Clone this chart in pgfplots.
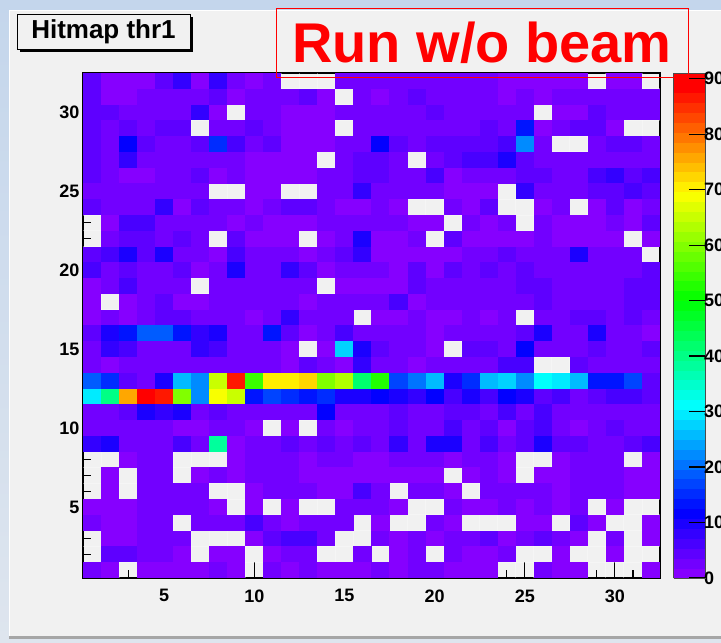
\documentclass[border=0pt]{standalone}
\usepackage{fontspec}
\setmainfont{Liberation Sans}
\usepackage{pgfplots}
\usepackage{pgfplotstable}
\pgfplotsset{compat=1.18}

% hits per pad: one line per row r, columns c1..c32 (0 = no hit)
\pgfplotstableread{
r c1 c2 c3 c4 c5 c6 c7 c8 c9 c10 c11 c12 c13 c14 c15 c16 c17 c18 c19 c20 c21 c22 c23 c24 c25 c26 c27 c28 c29 c30 c31 c32
32 5 1 1 1 5 8 1 8 3 1 2 0 0 0 3 2 3 3 3 3 3 3 3 1 1 1 1 1 0 1 1 0
31 5 1 1 3 3 2 3 5 1 2 3 3 4 1 0 3 1 3 5 3 3 3 2 1 2 1 2 2 3 2 3 3
30 5 5 3 3 3 3 8 1 0 3 2 1 1 1 3 3 3 3 3 4 2 2 3 3 3 0 1 1 4 3 3 3
29 5 3 5 3 5 5 0 3 3 5 2 1 1 1 0 3 3 3 3 3 2 3 4 3 14 1 3 5 4 1 0 0
28 5 3 11 5 3 3 5 16 7 3 4 1 1 1 2 3 11 5 3 5 5 5 5 7 22 3 0 0 3 4 5 3
27 5 3 8 3 2 2 3 2 2 1 1 1 1 0 3 4 5 3 0 3 5 7 7 9 5 3 3 3 2 3 3 3
26 4 3 1 1 3 2 5 1 3 1 1 1 1 3 2 5 4 3 3 7 1 3 3 3 5 5 3 2 7 8 5 7
25 3 3 2 3 3 3 2 0 0 1 1 0 0 3 3 8 3 3 3 3 1 1 1 0 8 3 3 3 5 5 7 5
24 4 3 3 3 8 1 5 3 2 1 3 5 5 3 1 1 3 1 0 0 3 1 4 0 0 1 3 0 1 4 1 2
23 0 1 7 7 3 3 3 3 1 3 1 1 1 2 3 3 3 3 1 1 0 3 1 2 0 2 1 1 1 3 1 4
22 0 3 4 4 3 5 3 0 5 1 1 1 0 1 3 9 1 1 3 0 5 1 1 1 1 2 1 1 1 1 0 1
21 4 7 9 4 9 3 3 1 7 3 3 3 1 3 4 8 1 1 1 1 1 3 3 5 3 3 3 9 3 3 3 0
20 7 3 4 3 3 5 1 3 9 3 3 8 5 1 3 3 2 1 5 1 5 3 5 3 5 3 3 3 3 3 3 5
19 1 3 6 3 3 3 0 3 3 3 3 3 3 0 1 1 1 1 4 3 3 3 3 3 5 4 3 3 3 3 4 4
18 1 0 1 3 4 1 1 3 3 3 3 3 1 3 3 3 3 6 1 3 3 3 3 3 2 5 3 3 3 3 4 4
17 1 3 1 3 4 4 3 3 3 1 3 8 3 3 2 0 1 1 3 1 1 3 1 3 0 2 2 5 5 3 5 3
16 5 9 13 19 18 13 8 9 3 3 13 5 1 3 6 2 3 3 3 1 3 3 3 3 5 9 3 2 9 3 3 1
15 3 8 6 3 2 2 8 6 3 3 3 1 0 1 28 9 5 3 3 1 0 5 4 3 11 3 2 3 4 3 3 5
14 2 1 3 3 3 3 3 3 3 3 3 1 4 3 1 8 3 3 1 3 3 3 3 7 6 0 0 5 3 3 3 3
13 18 15 4 3 9 25 23 66 86 55 70 70 73 60 64 42 52 17 20 25 9 16 26 28 23 31 30 26 14 13 17 5
12 30 40 76 89 86 60 23 68 66 13 17 16 13 15 9 9 11 10 8 11 7 9 7 11 9 5 6 3 5 7 7 5
11 3 3 4 9 8 9 3 5 3 3 3 3 3 12 3 3 3 4 3 3 5 5 3 7 3 6 3 3 3 3 3 3
10 3 3 3 3 3 1 1 3 3 1 0 1 0 3 1 3 2 4 3 3 7 3 4 1 5 7 3 1 3 4 3 3
9 8 9 3 3 2 6 3 38 1 3 3 5 3 5 3 4 3 8 3 9 9 3 7 2 5 10 5 4 3 3 4 6
8 0 0 1 2 2 0 0 0 1 3 3 3 1 3 3 1 1 2 2 3 1 3 3 1 0 0 1 3 3 3 0 1
7 0 1 0 2 2 0 1 3 1 3 3 3 1 1 1 1 1 1 1 1 0 1 3 1 0 1 1 3 3 3 1 1
6 0 1 0 3 3 3 3 0 0 1 3 3 3 1 1 6 3 0 3 3 1 0 3 3 3 3 1 3 3 3 1 1
5 1 1 1 3 3 3 3 1 0 1 0 1 0 0 2 3 3 1 0 0 2 1 1 3 1 3 1 3 0 1 0 0
4 2 1 1 3 3 0 3 3 3 6 3 1 2 3 3 0 1 0 0 3 1 0 0 0 1 1 0 4 1 0 0 1
3 0 1 1 3 3 2 0 0 0 1 5 7 7 3 0 0 2 1 2 1 2 3 4 1 3 4 3 1 0 3 0 1
2 0 5 4 2 3 1 0 1 1 0 1 3 3 0 0 2 0 1 3 0 2 1 1 3 0 0 1 0 0 1 0 0
1 2 1 0 1 1 1 1 3 1 0 2 1 3 1 1 1 3 1 3 3 1 1 1 0 0 3 1 1 0 0 0 1
}\hitmap

% 50-step violet-to-red palette, last colour repeated
\pgfplotsset{colormap={rootpal}{
 rgb255=(134,0,255) rgb255=(114,0,255) rgb255=(94,0,255) rgb255=(72,0,255)
 rgb255=(51,0,255) rgb255=(27,0,255) rgb255=(3,0,255) rgb255=(0,20,255)
 rgb255=(0,44,255) rgb255=(0,68,255) rgb255=(0,92,255) rgb255=(0,116,255)
 rgb255=(0,139,255) rgb255=(0,163,255) rgb255=(0,187,255) rgb255=(0,211,255)
 rgb255=(0,235,255) rgb255=(0,255,252) rgb255=(0,255,228) rgb255=(0,255,204)
 rgb255=(0,255,180) rgb255=(0,255,156) rgb255=(0,255,133) rgb255=(0,255,109)
 rgb255=(0,255,85) rgb255=(0,255,61) rgb255=(0,255,37) rgb255=(0,255,14)
 rgb255=(10,255,0) rgb255=(34,255,0) rgb255=(58,255,0) rgb255=(82,255,0)
 rgb255=(105,255,0) rgb255=(129,255,0) rgb255=(153,255,0) rgb255=(177,255,0)
 rgb255=(201,255,0) rgb255=(224,255,0) rgb255=(248,255,0) rgb255=(255,238,0)
 rgb255=(255,214,0) rgb255=(255,190,0) rgb255=(255,167,0) rgb255=(255,143,0)
 rgb255=(255,119,0) rgb255=(255,95,0) rgb255=(255,71,0) rgb255=(255,48,0)
 rgb255=(255,24,0) rgb255=(255,0,0) rgb255=(255,0,0)}}

% one filled bin, 577/32 by 505/32
\pgfdeclareplotmark{cell}{%
  \pgfpathrectangle{\pgfqpoint{-9.07pt}{-7.94pt}}{\pgfqpoint{18.14pt}{15.88pt}}%
  \pgfusepathqfill}

\definecolor{canvas}{RGB}{241,241,241}
\definecolor{edgetop}{RGB}{196,214,236}
\definecolor{edgebot}{RGB}{222,229,238}

\begin{document}
\begin{tikzpicture}[x=1pt,y=1pt]
  % window background and canvas
  \shade[top color=edgetop, bottom color=edgebot] (0,0) rectangle (721,643);
  \fill[canvas] (9,6) rectangle (721,633);
  \draw[white, line width=1pt] (9.5,6) -- (9.5,632.5) -- (721,632.5);
  \fill[gray!70] (9,4) rectangle (721,7);

  \begin{axis}[
    at={(83pt,65pt)}, anchor=south west,
    scale only axis, width=577pt, height=505pt,
    xmin=0.5, xmax=32.5, ymin=0.5, ymax=32.5,
    axis background/.style={fill=canvas},
    axis on top,
    xtick pos=bottom, ytick pos=left,
    xtick={5,10,...,30}, ytick={5,10,...,30},
    minor xtick={1,...,32}, minor ytick={1,...,32},
    extra x ticks={1.5,2.5,...,31.5}, extra y ticks={1.5,2.5,...,31.5},
    extra x tick labels={}, extra y tick labels={},
    extra tick style={grid=major, major tick length=0pt,
      major grid style={white, opacity=0.35, line width=0.9pt}},
    tick align=inside,
    major tick length=16pt, minor tick length=8pt,
    tick style={black, line width=1.1pt},
    axis line style={black, line width=1.4pt},
    /pgf/number format/assume math mode=true,
    ticklabel style={font=\bfseries\fontsize{18}{18}\selectfont},
    xticklabel style={yshift=-8pt},
    colormap name=rootpal,
    colormap access=piecewise constant,
    point meta min=0, point meta max=91,
    colorbar,
    colorbar style={
      at={(parent axis.south east)}, anchor=south west, xshift=5pt,
      scale only axis, width=32pt, height=505pt,
      ytick={0,10,...,90},
      ytick pos=right, yticklabel pos=right,
      tick align=inside, major tick length=17pt,
      tick style={black, line width=1.1pt},
      axis line style={draw=gray!60!black, line width=0.6pt},
      /pgf/number format/assume math mode=true,
      yticklabel style={font=\bfseries\fontsize{18}{18}\selectfont, xshift=-5pt},
    },
  ]
    \pgfplotsinvokeforeach{1,...,32}{%
      \addplot[scatter, only marks, mark=cell, point meta=explicit,
        scatter/use mapped color={draw=none, fill=mapped color},
        filter discard warning=false, unbounded coords=discard]
        table[x expr=#1, y expr={\thisrow{c#1}==0 ? nan : \thisrow{r}},
              meta=c#1] {\hitmap};
    }
  \end{axis}

  % histogram title box with drop shadow
  \fill[black] (20,591) rectangle (193,626);
  \draw[black, line width=0.8pt, fill=canvas] (17,594) rectangle (190,629);
  \node[anchor=base, inner sep=0pt, font=\bfseries\fontsize{26}{26}\selectfont]
    at (103.5,604.5) {Hitmap thr1};

  % run annotation
  \draw[red, line width=0.8pt] (276,566) rectangle (688,635);
  \node[anchor=base, inner sep=0pt, text=red, font=\bfseries\fontsize{56}{56}\selectfont]
    at (482,580) {Run w/o beam};

  \pgfresetboundingbox
  \useasboundingbox (0,0) rectangle (721,643);
\end{tikzpicture}
\end{document}
